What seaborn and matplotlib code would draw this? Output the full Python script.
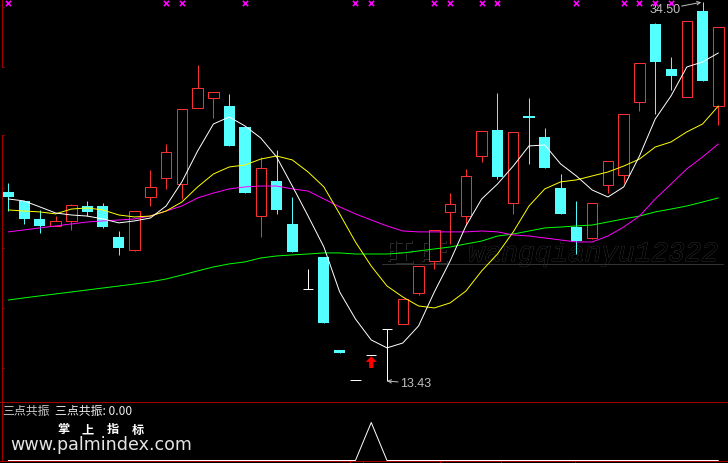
####################     imports     ####################
import numpy as np
import pandas as pd
import matplotlib
matplotlib.use('Agg')
import seaborn as sns
import matplotlib.pyplot as plt
import matplotlib.patheffects as pe

####################     data     ####################
high = [24.44, 23.44, 22.94, 22.60, 23.27, 23.44, 23.33, 21.77, 22.88, 25.16, 26.61, 28.55, 31.00, 29.50, 29.39, 27.55,
        25.89, 26.27, 23.66, 19.66, 20.33, 15.15, 13.49, 14.88, 16.32, 17.99, 19.82, 21.83, 23.88, 25.22, 27.33, 29.44,
        27.28, 29.17, 27.50, 24.94, 23.44, 23.33, 25.66, 28.28, 31.11, 33.34, 31.45, 33.45, 34.50, 33.11]
low = [22.88, 22.16, 21.66, 22.05, 21.83, 22.60, 21.94, 20.44, 20.66, 23.16, 24.11, 23.55, 28.61, 28.05, 26.50, 23.88,
       21.44, 22.72, 20.60, 18.55, 16.66, 14.99, 13.49, 14.88, 13.43, 16.60, 18.21, 19.66, 21.05, 22.10, 25.61, 24.66,
       22.72, 25.50, 25.27, 22.72, 20.49, 21.33, 23.88, 24.44, 28.44, 28.28, 29.61, 29.22, 30.11, 27.66]
open_ = [23.94, 23.44, 22.44, 22.05, 22.33, 23.16, 23.16, 21.44, 20.71, 23.66, 24.72, 24.38, 28.61, 29.17, 28.72, 27.55,
         22.60, 24.55, 22.16, 18.55, 20.33, 15.15, 13.49, 14.88, 16.32, 16.60, 18.32, 20.10, 22.83, 22.60, 25.94, 27.39,
         23.33, 28.16, 27.00, 24.16, 21.99, 21.38, 24.33, 24.88, 28.94, 33.28, 30.78, 29.22, 34.00, 28.72]
close = [23.66, 22.44, 22.05, 22.33, 23.22, 22.83, 21.99, 20.83, 22.88, 24.22, 26.16, 28.55, 29.72, 29.50, 26.50, 23.88,
         25.27, 22.94, 20.60, 18.55, 16.66, 14.99, 13.49, 14.88, 16.32, 17.99, 19.82, 21.83, 23.27, 24.83, 27.33, 24.77,
         27.28, 28.05, 25.27, 22.72, 21.21, 23.33, 25.66, 28.28, 31.11, 31.17, 30.39, 33.45, 30.11, 33.11]

ma_white = [23.55, 23.44, 23.11, 22.77, 22.66, 22.60, 22.44, 22.22, 22.33, 22.49, 23.16, 24.50, 26.22, 27.72, 28.11, 27.61,
            26.94, 25.89, 24.27, 22.60, 20.88, 18.38, 16.88, 15.71, 15.27, 15.54, 16.49, 18.38, 20.10, 22.05, 23.55, 24.38,
            25.38, 26.50, 26.55, 25.50, 24.83, 24.05, 23.66, 24.22, 25.94, 28.00, 29.28, 30.89, 31.17, 31.67]
ma_yellow = [22.94, 22.88, 22.83, 22.72, 22.99, 23.05, 22.94, 22.66, 22.55, 22.60, 22.88, 23.38, 24.22, 24.94, 25.33, 25.44,
             25.77, 25.94, 25.72, 25.05, 24.22, 22.72, 21.16, 19.82, 18.71, 18.10, 17.60, 17.49, 17.77, 18.43, 19.55, 20.49,
             21.72, 23.16, 24.11, 24.50, 24.61, 24.83, 25.05, 25.38, 25.77, 26.44, 26.72, 27.28, 27.72, 28.72]
ma_magenta = [21.72, 21.83, 21.94, 22.05, 22.16, 22.27, 22.33, 22.38, 22.44, 22.60, 22.88, 23.16, 23.61, 23.88, 24.11, 24.22,
              24.27, 24.27, 24.11, 23.99, 23.55, 23.11, 22.72, 22.38, 22.05, 21.77, 21.72, 21.72, 21.72, 21.72, 21.77, 21.72,
              21.55, 21.49, 21.38, 21.27, 21.16, 21.16, 21.49, 21.99, 22.60, 23.55, 24.38, 25.22, 25.89, 26.61]
ma_green = [17.93, 18.05, 18.16, 18.27, 18.38, 18.49, 18.60, 18.71, 18.82, 18.94, 19.10, 19.32, 19.55, 19.77, 19.94, 20.05,
            20.27, 20.38, 20.44, 20.49, 20.55, 20.55, 20.49, 20.49, 20.49, 20.55, 20.66, 20.77, 20.88, 21.05, 21.21, 21.49,
            21.60, 21.77, 21.94, 21.99, 22.05, 22.10, 22.27, 22.44, 22.60, 22.83, 22.99, 23.16, 23.38, 23.61]

# indices of the magenta crosses along the top, and the red arrow
cross_days = [0, 10, 11, 15, 22, 23, 27, 28, 30, 31, 36, 39, 40, 41, 42]
arrow_day = 23
# lower panel: 0 everywhere except one signal day
signal = [0] * 23 + [1] + [0] * 22

days = np.arange(len(high))
df = pd.DataFrame({'day': days, 'high': high, 'low': low, 'open': open_, 'close': close,
                   'white': ma_white, 'yellow': ma_yellow, 'magenta': ma_magenta, 'green': ma_green,
                   'signal': signal})

####################     style     ####################
sns.set_theme(style='dark', rc={'axes.facecolor': 'black', 'figure.facecolor': 'black'})
plt.rcParams['font.family'] = ['Noto Sans CJK SC', 'DejaVu Sans']

RED = '#ff3232'
CYAN = '#54ffff'
FRAME = '#a80000'
GREY = '#c0c0c0'
PX = 0.71  # just under one pixel in points, so edges snap onto a single pixel row

fig = plt.figure(figsize=(7.28, 4.64), dpi=100)
ax = fig.add_axes([0, 61 / 464, 1, 403 / 464])
ax2 = fig.add_axes([0, 2 / 464, 1, 59 / 464], sharex=ax)

####################     candles     ####################
up = df[df['close'] > df['open']]
down = df[df['close'] < df['open']]
flat = df[df['close'] == df['open']]

ax.vlines(up['day'], up['low'], up['high'], color=RED, linewidth=PX, zorder=2)
ax.vlines(down['day'], down['low'], down['high'], color=CYAN, linewidth=PX, zorder=2)
ax.vlines(flat['day'], flat['low'], flat['high'], color='white', linewidth=PX, zorder=2)

ax.bar(up['day'], up['close'] - up['open'], bottom=up['open'], width=0.66, facecolor='black', edgecolor=RED,
       linewidth=PX, zorder=3)
ax.bar(down['day'], down['open'] - down['close'], bottom=down['close'], width=0.70, facecolor=CYAN, edgecolor=CYAN,
       linewidth=0, zorder=3)
ax.hlines(flat['close'], flat['day'] - 0.33, flat['day'] + 0.33, color='white', linewidth=PX, zorder=3)

####################     moving averages     ####################
for name in ['green', 'magenta', 'yellow', 'white']:
    col = {'green': '#00ff00', 'magenta': '#ff00ff', 'yellow': '#ffff00', 'white': '#ffffff'}[name]
    sns.lineplot(data=df, x='day', y=name, color=col, linewidth=PX, errorbar=None, ax=ax, zorder=4)

####################     marks on top     ####################
ax.scatter(cross_days, [34.45] * len(cross_days), marker='x', s=14, color='#ff00ff', linewidth=1.2, zorder=5)

ax.annotate('', xy=(arrow_day, 14.80), xytext=(arrow_day, 14.15),
            arrowprops=dict(facecolor='#ff0000', edgecolor='#ff0000', width=3, headwidth=8, headlength=4, linewidth=0),
            zorder=5)

# high and low labels, the arrows are drawn apart from the text
ax.annotate('34.50', xy=(44, 34.50), xytext=(-53, -7), textcoords='offset pixels', color=GREY,
            fontsize=9, family='Liberation Sans', ha='left', va='center')
ax.annotate('', xy=(44, 34.50), xytext=(-21, -4), textcoords='offset pixels',
            arrowprops=dict(arrowstyle='->', color=GREY, linewidth=PX, shrinkA=0, shrinkB=1, mutation_scale=6))
ax.annotate('13.43', xy=(24, 13.43), xytext=(13, -2), textcoords='offset pixels', color=GREY,
            fontsize=9, family='Liberation Sans', ha='left', va='center')
ax.annotate('', xy=(24, 13.43), xytext=(11, -1), textcoords='offset pixels',
            arrowprops=dict(arrowstyle='->', color=GREY, linewidth=PX, shrinkA=0, shrinkB=0, mutation_scale=6))

####################     watermark     ####################
halo = [pe.withStroke(linewidth=0.6, foreground='#343434')]
ax.text(386 / 728, 1 - 263 / 464, '旺 旺', transform=fig.transFigure, color='black', fontsize=20, ha='left',
        va='baseline', path_effects=halo, zorder=0.5, family=['Noto Sans CJK SC'])
ax.text(468 / 728, 1 - 262 / 464, 'wangqianyu12322', transform=fig.transFigure, color='black', fontsize=20,
        ha='left', va='baseline', style='italic', path_effects=halo, zorder=0.5, family=['Liberation Mono'])
ax.plot([382 / 728, 723 / 728], [1 - 265 / 464] * 2, transform=fig.transFigure, color='#343434', linewidth=PX, zorder=0.5)

####################     lower panel     ####################
sns.lineplot(data=df, x='day', y='signal', color='white', linewidth=PX, errorbar=None, ax=ax2, zorder=4)

fig.text(2 / 728, 1 - 411 / 464, '三点共振', color='#c8c8c8', fontsize=8.6, va='center')
fig.text(55 / 728, 1 - 411 / 464, '三点共振: 0.00', color='#eeeeee', fontsize=8.6, va='center')
fig.text(57 / 728, 1 - 430 / 464, '掌', color='white', fontsize=8.8, va='center', fontweight='bold')
fig.text(82 / 728, 1 - 430 / 464, '上', color='white', fontsize=8.8, va='center', fontweight='bold')
fig.text(107 / 728, 1 - 430 / 464, '指', color='white', fontsize=8.8, va='center', fontweight='bold')
fig.text(132 / 728, 1 - 430 / 464, '标', color='white', fontsize=8.8, va='center', fontweight='bold')
fig.text(10 / 728, 1 - 445 / 464, 'www.palmindex.com', color='#e4e4e4', fontsize=12.65, va='center', family='DejaVu Sans')

####################     axes     ####################
ax.set_xlim(-0.526, 45.61)
ax.set_ylim(12.26, 34.67)
ax2.set_ylim(-0.0132, 1.5395)

ax.set(xlabel='', ylabel='')
ax2.set(xlabel='', ylabel='')
ax.set_yticks([34.23, 30.89, 27.11, 24.16, 20.83, 17.49, 14.15])
ax.set_xticks([])
ax2.set_yticks([])
ax2.set_xticks([21.65, 22.5, 27.35, 31.2, 35.9])
ax.tick_params(axis='y', direction='in', length=1.5, width=PX, color=FRAME, labelleft=False, left=True)
ax.tick_params(axis='x', bottom=False, labelbottom=False)
ax2.tick_params(axis='x', direction='out', length=1.5, width=PX, color=FRAME, labelbottom=False, bottom=True)
ax.grid(False)
ax2.grid(False)

ax.spines['top'].set_visible(False)
ax.spines['bottom'].set_visible(False)
for panel in [ax, ax2]:
    for side in ['left', 'right']:
        panel.spines[side].set_color(FRAME)
        panel.spines[side].set_linewidth(PX)
        panel.spines[side].set_visible(True)
    panel.spines['left'].set_position(('axes', 1.5 / 728))
    panel.spines['right'].set_position(('axes', 727.5 / 728))
# the left edge of the price panel is broken between two ticks
ax.spines['left'].set_bounds(12.26, 27.11)
ax.plot([1.5 / 728] * 2, [30.89, 34.67], transform=ax.get_yaxis_transform(), color=FRAME, linewidth=PX)
for side in ['top', 'bottom']:
    ax2.spines[side].set_color(FRAME)
    ax2.spines[side].set_linewidth(PX)
    ax2.spines[side].set_visible(True)

fig.savefig('out.png', dpi=100, facecolor='black')
plt.close(fig)
